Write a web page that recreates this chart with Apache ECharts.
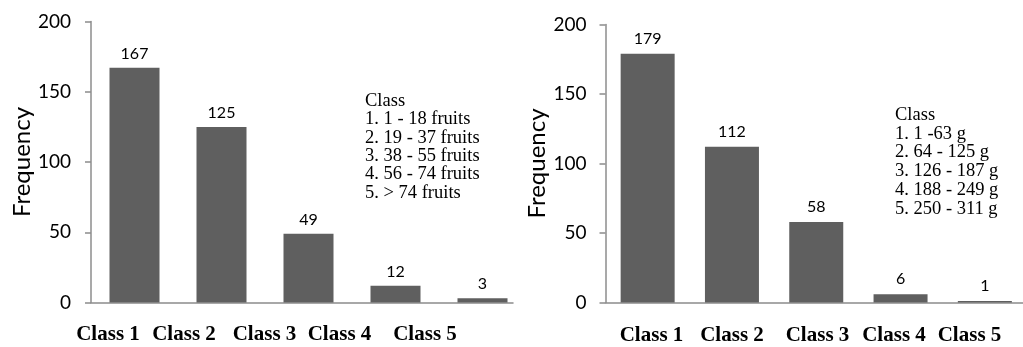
<!DOCTYPE html>
<html>
<head>
<meta charset="utf-8">
<script src="https://cdn.jsdelivr.net/npm/echarts@6/dist/echarts.min.js"></script>
<style>
  html, body { margin: 0; padding: 0; background: #fff; }
  #chart { width: 1023px; height: 347px; }
</style>
</head>
<body>
<div id="chart"></div>
<script>
// Class names shared by both panels
const categories = ['Class 1', 'Class 2', 'Class 3', 'Class 4', 'Class 5'];

// Panel A: number of fruits per plant
const fruitCounts = [167, 125, 49, 12, 3];
const fruitClasses = ['Class', '1. 1 - 18 fruits', '2. 19 - 37 fruits', '3. 38 - 55 fruits', '4. 56 - 74 fruits', '5. > 74 fruits'];

// Panel B: fruit weight
const weightCounts = [179, 112, 58, 6, 1];
const weightClasses = ['Class', '1. 1 -63 g', '2. 64 - 125 g', '3. 126 - 187 g', '4. 188 - 249 g', '5. 250 - 311 g'];

const yTicks = { min: 0, max: 200, interval: 50 };
const yTitle = 'Frequency';

const AXIS = '#8c8c8c';
const BAR = '#5f5f5f';
const SANS = 'Lato, "Open Sans", sans-serif';
const SERIF = '"Liberation Serif", "DejaVu Serif", serif';

// Panel layout (pixels)
const panels = [
  { left: 91, top: 21.5, height: 281, step: 87, axisEnd: 513, barWidth: 50,
    labelMargin: 20, nameGap: 56, labelDist: 6,
    classX: [108, 184, 264.5, 339.5, 425], classY: 335,
    noteX: 365, noteY: 101, noteStep: 18.4 },
  { left: 605.5, top: 24.5, height: 278, step: 84.3, axisEnd: 1023, barWidth: 54,
    labelMargin: 19, nameGap: 55, labelDist: 7,
    classX: [651.5, 732, 817.5, 894, 969.5], classY: 336,
    noteX: 895, noteY: 115, noteStep: 18.8 }
];
const counts = [fruitCounts, weightCounts];
const notes = [fruitClasses, weightClasses];

const grid = [], xAxis = [], yAxis = [], series = [], graphic = [];

panels.forEach((p, i) => {
  const width = p.axisEnd - p.left;
  grid.push({ left: p.left, top: p.top, width: width, height: p.height, containLabel: false });
  xAxis.push({
    type: 'value', gridIndex: i,
    min: 0.5, max: 0.5 + width / p.step,
    axisLine: { show: true, onZero: false, lineStyle: { color: AXIS, width: 1.5 } },
    axisTick: { show: false }, axisLabel: { show: false }, splitLine: { show: false }
  });
  yAxis.push({
    type: 'value', gridIndex: i,
    min: yTicks.min, max: yTicks.max, interval: yTicks.interval,
    name: yTitle, nameLocation: 'middle', nameGap: p.nameGap, nameRotate: 90,
    nameTextStyle: { fontFamily: SANS, fontSize: 24, color: '#000' },
    axisLine: { show: true, lineStyle: { color: AXIS, width: 1.5 } },
    axisTick: { show: true, inside: false, length: 6, lineStyle: { color: AXIS, width: 1.5 } },
    axisLabel: { margin: p.labelMargin, fontFamily: SANS, fontSize: 19, color: '#000' },
    splitLine: { show: false }
  });
  series.push({
    type: 'bar', xAxisIndex: i, yAxisIndex: i,
    barWidth: p.barWidth,
    itemStyle: { color: BAR },
    label: { show: true, position: 'top', distance: p.labelDist,
             fontFamily: SANS, fontSize: 16, color: '#000' },
    data: counts[i].map((v, k) => [k + 1, v])
  });
  // Bold class names under the bars
  categories.forEach((c, k) => {
    graphic.push({
      type: 'text', x: p.classX[k], y: p.classY,
      style: { text: c, font: 'bold 21px ' + SERIF, fill: '#000',
               textAlign: 'center', textVerticalAlign: 'middle' }
    });
  });
  // Class range notes
  notes[i].forEach((t, k) => {
    graphic.push({
      type: 'text', x: p.noteX, y: p.noteY + k * p.noteStep,
      style: { text: t, font: '18.5px ' + SERIF, fill: '#000',
               textAlign: 'left', textVerticalAlign: 'middle' }
    });
  });
});

const chart = echarts.init(document.getElementById('chart'), null, { renderer: 'canvas' });
chart.setOption({
  animation: false,
  backgroundColor: '#fff',
  grid, xAxis, yAxis, series, graphic
});
</script>
</body>
</html>
